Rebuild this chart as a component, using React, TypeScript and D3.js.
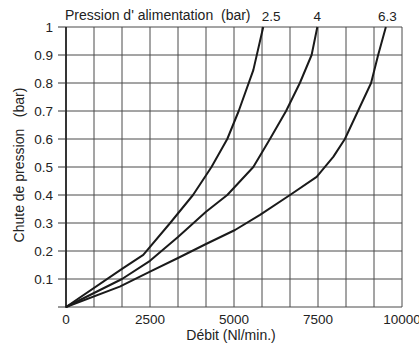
import React from "react";
import * as d3 from "d3";

const xTickValues = [0, 2500, 5000, 7500, 10000];
const yTickValues = [0.1, 0.2, 0.3, 0.4, 0.5, 0.6, 0.7, 0.8, 0.9, 1];
const seriesNames = ["2.5", "4", "6.3"];

const flow25 = [0, 1667, 2300, 3100, 3780, 4330, 4800, 5140, 5575, 5870];
const drop25 = [0, 0.136, 0.186, 0.3, 0.4, 0.5, 0.6, 0.7, 0.846, 1.0];

const flow40 = [0, 1667, 2500, 3333, 4167, 4800, 5575, 6070, 6550, 6960, 7310, 7480];
const drop40 = [0, 0.1, 0.165, 0.25, 0.34, 0.4, 0.5, 0.6, 0.7, 0.8, 0.9, 1.0];

const flow63 = [0, 1600, 2500, 3333, 4167, 5030, 5774, 6667, 7460, 7960, 8300, 8690, 9080, 9290, 9520];
const drop63 = [0, 0.073, 0.126, 0.175, 0.225, 0.275, 0.329, 0.4, 0.465, 0.537, 0.6, 0.7, 0.8, 0.9, 1.0];

const W = 419;
const H = 350;
const left = 66;
const right = 402;
const top = 27;
const bottom = 307;
const FONT = "'Liberation Sans', Arial, Helvetica, sans-serif";

export default function App() {
  const x = d3.scaleLinear().domain([0, 10000]).range([left, right]);
  const y = d3.scaleLinear().domain([0, 1]).range([bottom, top]);
  const vGrid = d3.range(0, 13).map((i) => (i * 10000) / 12);
  const hGrid = d3.range(0, 11).map((i) => i / 10);
  const line = d3
    .line<[number, number]>()
    .x((d) => x(d[0]))
    .y((d) => y(d[1]));
  const series = [
    { name: seriesNames[0], pts: flow25.map((f, i) => [f, drop25[i]] as [number, number]), dx: 8 },
    { name: seriesNames[1], pts: flow40.map((f, i) => [f, drop40[i]] as [number, number]), dx: 0 },
    { name: seriesNames[2], pts: flow63.map((f, i) => [f, drop63[i]] as [number, number]), dx: 1.5 },
  ];
  return (
    <svg
      width={W}
      height={H}
      style={{ position: "absolute", left: 0, top: 0, background: "#fff" }}
      fontFamily={FONT}
    >
      <rect x={0} y={0} width={W} height={H} fill="#fff" />
      {vGrid.map((v, i) => (
        <line key={"v" + i} x1={x(v)} x2={x(v)} y1={y(0)} y2={y(1)} stroke="#4a4a4a" strokeWidth={1} />
      ))}
      {hGrid.map((v, i) => (
        <line key={"h" + i} x1={x(0)} x2={x(10000)} y1={y(v)} y2={y(v)} stroke="#4a4a4a" strokeWidth={1} />
      ))}
      <line x1={x(0)} x2={x(0)} y1={y(0) + 1} y2={y(1)} stroke="#111" strokeWidth={1.5} />
      {[0, ...yTickValues].map((v, i) => (
        <line key={"yt" + i} x1={x(0) - 8} x2={x(0)} y1={y(v)} y2={y(v)} stroke="#333" strokeWidth={1} />
      ))}
      {yTickValues.map((v, i) => (
        <text key={"yl" + i} x={x(0) - 13} y={y(v) + 5} textAnchor="end" fontSize={13.5} fill="#222">
          {String(v)}
        </text>
      ))}
      {xTickValues.map((v, i) => (
        <text key={"xl" + i} x={x(v)} y={y(0) + 16.5} textAnchor="middle" fontSize={13.5} fill="#222">
          {String(v)}
        </text>
      ))}
      <text x={231} y={339.5} textAnchor="middle" fontSize={14} fill="#222">
        Débit (Nl/min.)
      </text>
      <text
        transform={`translate(24,165) rotate(-90)`}
        textAnchor="middle"
        fontSize={14}
        fill="#222"
        style={{ whiteSpace: "pre" }}
      >
        {"Chute de pression   (bar)"}
      </text>
      <text x={x(0) - 1} y={20} fontSize={14} fill="#222" style={{ whiteSpace: "pre" }}>
        {"Pression d' alimentation  (bar)"}
      </text>
      {series.map((s) => (
        <path key={s.name} d={line(s.pts) || ""} fill="none" stroke="#1a1a1a" strokeWidth={2} strokeLinejoin="round" />
      ))}
      {series.map((s) => {
        const last = s.pts[s.pts.length - 1];
        return (
          <text key={"lab" + s.name} x={x(last[0]) + s.dx} y={20.5} textAnchor="middle" fontSize={13.5} fill="#222">
            {s.name}
          </text>
        );
      })}
    </svg>
  );
}
